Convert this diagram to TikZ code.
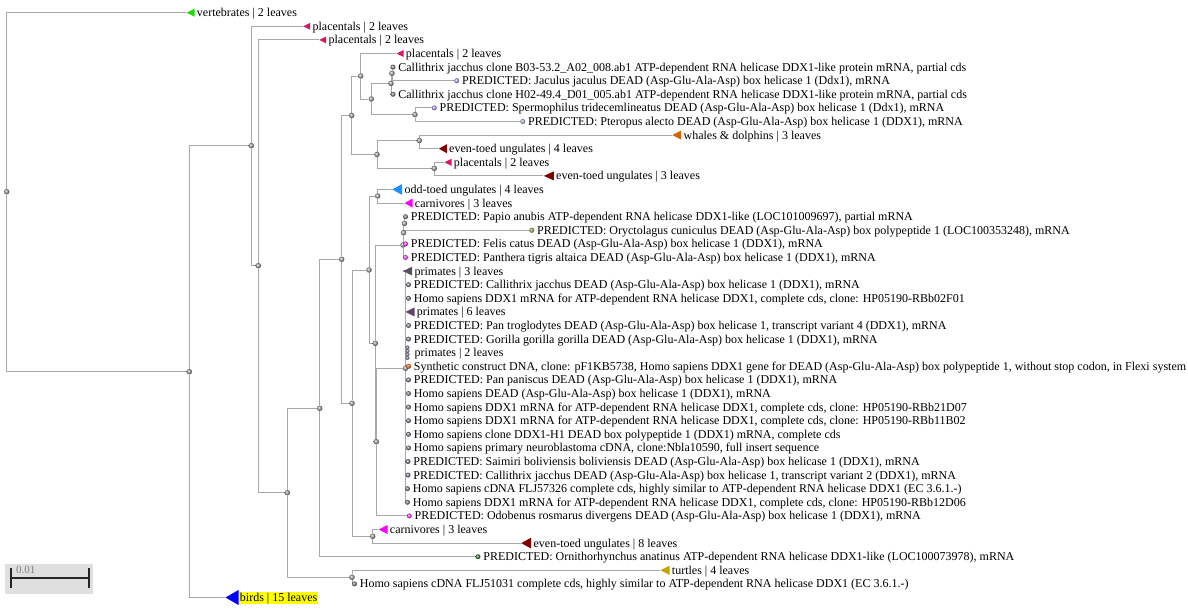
\documentclass[tikz,border=0pt]{standalone}
\usepackage{fontspec}
\setmainfont{Liberation Serif}
\usetikzlibrary{positioning,shapes.geometric,backgrounds}

% Colours
\definecolor{edgegray}{RGB}{168,168,168}
\definecolor{nodegray}{RGB}{165,165,165}
\definecolor{leafgray}{RGB}{140,128,150}
\definecolor{lavender}{RGB}{190,160,255}
\definecolor{bluegray}{RGB}{175,190,215}
\definecolor{oryctcol}{RGB}{170,170,90}
\definecolor{pinkleaf}{RGB}{255,70,255}
\definecolor{synthorange}{RGB}{255,100,30}
\definecolor{platygreen}{RGB}{60,130,60}
\definecolor{vertgreen}{RGB}{30,220,10}
\definecolor{placpink}{RGB}{220,20,100}
\definecolor{whaleorange}{RGB}{210,100,0}
\definecolor{eventoed}{RGB}{128,0,0}
\definecolor{oddblue}{RGB}{30,144,255}
\definecolor{carnmagenta}{RGB}{255,0,255}
\definecolor{primgray}{RGB}{90,75,95}
\definecolor{turtlegold}{RGB}{200,160,0}
\definecolor{birdblue}{RGB}{0,0,255}
\definecolor{birdyellow}{RGB}{255,255,0}

\begin{document}
\begin{tikzpicture}[
            x=1pt, y=-1pt,
            edgeline/.style={
                draw=edgegray,
                line width=0.9pt
            },
            innode/.style={
                circle,
                inner sep=0pt,
                minimum size=5.5pt,
                ball color=nodegray
            },
            leafnode/.style={
                circle,
                inner sep=0pt,
                minimum size=5pt
            },
            clade/.style={
                isosceles triangle,
                shape border rotate=180,
                isosceles triangle stretches,
                inner sep=0pt,
                anchor=apex
            },
            lbl/.style={
                inner sep=0pt,
                text height=10pt,
                text depth=2pt,
                font=\fontsize{12}{14}\selectfont
            }
        ]

            % Layout parameters
            \def\rowtop{12.7}
            \def\rowstep{13.6}

            \useasboundingbox (0,0) rectangle (1188,609);

            % --- Internal nodes ---
            \foreach \nm/\x/\y in {root/6.7/191.7, n1/189.3/371.7, n2/251.3/145.7,
                n3/258.3/265.7, n4/287.3/492.7, n5/319.7/408.3, n6/352/577.3,
                n7/341.7/259.3, n8/351.7/115.5, n9/352/403.3, n10/360.7/76,
                n11/377/154.5, n12/371.3/99, n13/391/83.5, n14/415/114.6,
                n15/392/73.3, n16/419.3/140.5, n17/434.3/168.3, n18/369/270,
                n19/372.7/536.3, n20/377.7/196, n21/375.3/343.3, n22/403/245,
                n23/376.3/441.7, n24/405.5/368.3, ca/403.5/232.7, cb/404.5/223.3} {
                \node[innode] (\nm) at (\x,\y) {};
            }

            % --- Collapsed clades (triangles) ---
            \foreach \nm/\x/\r/\len/\wid/\col/\txt in {
                vert/186/1/8pt/8pt/vertgreen/{vertebrates | 2 leaves},
                plac1/302.7/2/7pt/7pt/placpink/{placentals | 2 leaves},
                plac2/318.7/3/7pt/7pt/placpink/{placentals | 2 leaves},
                plac3/396/4/7pt/7pt/placpink/{placentals | 2 leaves},
                whales/671.7/10/9pt/9pt/whaleorange/{whales \& dolphins | 3 leaves},
                even4/438.3/11/8pt/9pt/eventoed/{even-toed ungulates | 4 leaves},
                plac4/444/12/7pt/7pt/placpink/{placentals | 2 leaves},
                even3/543.3/13/10pt/9pt/eventoed/{even-toed ungulates | 3 leaves},
                oddtoed/391.7/14/10pt/11pt/oddblue/{odd-toed ungulates | 4 leaves},
                carn1/404/15/8pt/9pt/carnmagenta/{carnivores | 3 leaves},
                prim3/402.7/20/9pt/9pt/primgray/{primates | 3 leaves},
                prim6/405/23/9pt/9pt/primgray/{primates | 6 leaves},
                carn2/378/39/9pt/9pt/carnmagenta/{carnivores | 3 leaves},
                even8/520.7/40/10pt/11pt/eventoed/{even-toed ungulates | 8 leaves},
                turtles/660/42/9pt/9pt/turtlegold/{turtles | 4 leaves}} {
                \node[clade, fill=\col, minimum height=\len, minimum width=\wid] (\nm) at (\x, {\rowtop+(\r-1)*\rowstep}) {};
                \node[lbl, right=2pt of \nm] {\txt};
            }

            % birds, highlighted
            \node[clade, fill=birdblue, minimum height=13pt, minimum width=15pt] (birds) at (225, {\rowtop+43*\rowstep}) {};
            \node[lbl, fill=birdyellow, inner xsep=0.5pt, right=0.5pt of birds] (birdslbl) {birds | 15 leaves};

            % --- Leaves ---
            \foreach \nm/\x/\r/\col/\txt in {
                b03/393/5/leafgray/{Callithrix jacchus clone B03-53.2\_A02\_008.ab1 ATP-dependent RNA helicase DDX1-like protein mRNA, partial cds},
                jaculus/456.7/6/lavender/{PREDICTED: Jaculus jaculus DEAD (Asp-Glu-Ala-Asp) box helicase 1 (Ddx1), mRNA},
                h02/393/7/leafgray/{Callithrix jacchus clone H02-49.4\_D01\_005.ab1 ATP-dependent RNA helicase DDX1-like protein mRNA, partial cds},
                sperm/434.3/8/lavender/{PREDICTED: Spermophilus tridecemlineatus DEAD (Asp-Glu-Ala-Asp) box helicase 1 (Ddx1), mRNA},
                pteropus/522.7/9/bluegray/{PREDICTED: Pteropus alecto DEAD (Asp-Glu-Ala-Asp) box helicase 1 (DDX1), mRNA},
                papio/405.5/16/leafgray/{PREDICTED: Papio anubis ATP-dependent RNA helicase DDX1-like (LOC101009697), partial mRNA},
                oryct/531.7/17/oryctcol/{PREDICTED: Oryctolagus cuniculus DEAD (Asp-Glu-Ala-Asp) box polypeptide 1 (LOC100353248), mRNA},
                felis/405.5/18/pinkleaf/{PREDICTED: Felis catus DEAD (Asp-Glu-Ala-Asp) box helicase 1 (DDX1), mRNA},
                panthera/405.5/19/pinkleaf/{PREDICTED: Panthera tigris altaica DEAD (Asp-Glu-Ala-Asp) box helicase 1 (DDX1), mRNA},
                calli/408.5/21/leafgray/{PREDICTED: Callithrix jacchus DEAD (Asp-Glu-Ala-Asp) box helicase 1 (DDX1), mRNA},
                rbb02/408.5/22/leafgray/{Homo sapiens DDX1 mRNA for ATP-dependent RNA helicase DDX1, complete cds, clone: HP05190-RBb02F01},
                pantro/408.5/24/leafgray/{PREDICTED: Pan troglodytes DEAD (Asp-Glu-Ala-Asp) box helicase 1, transcript variant 4 (DDX1), mRNA},
                gorilla/408.5/25/leafgray/{PREDICTED: Gorilla gorilla gorilla DEAD (Asp-Glu-Ala-Asp) box helicase 1 (DDX1), mRNA},
                synth/408.5/27/synthorange/{Synthetic construct DNA, clone: pF1KB5738, Homo sapiens DDX1 gene for DEAD (Asp-Glu-Ala-Asp) box polypeptide 1, without stop codon, in Flexi system},
                panpan/408.5/28/leafgray/{PREDICTED: Pan paniscus DEAD (Asp-Glu-Ala-Asp) box helicase 1 (DDX1), mRNA},
                hsdead/408.5/29/leafgray/{Homo sapiens DEAD (Asp-Glu-Ala-Asp) box helicase 1 (DDX1), mRNA},
                rbb21/408.5/30/leafgray/{Homo sapiens DDX1 mRNA for ATP-dependent RNA helicase DDX1, complete cds, clone: HP05190-RBb21D07},
                rbb11/408.5/31/leafgray/{Homo sapiens DDX1 mRNA for ATP-dependent RNA helicase DDX1, complete cds, clone: HP05190-RBb11B02},
                ddxh1/408.5/32/leafgray/{Homo sapiens clone DDX1-H1 DEAD box polypeptide 1 (DDX1) mRNA, complete cds},
                nbla/408.5/33/leafgray/{Homo sapiens primary neuroblastoma cDNA, clone:Nbla10590, full insert sequence},
                saimiri/408/34/leafgray/{PREDICTED: Saimiri boliviensis boliviensis DEAD (Asp-Glu-Ala-Asp) box helicase 1 (DDX1), mRNA},
                calli2/408/35/leafgray/{PREDICTED: Callithrix jacchus DEAD (Asp-Glu-Ala-Asp) box helicase 1, transcript variant 2 (DDX1), mRNA},
                flj57/407.5/36/leafgray/{Homo sapiens cDNA FLJ57326 complete cds, highly similar to ATP-dependent RNA helicase DDX1 (EC 3.6.1.-)},
                rbb12/407.5/37/leafgray/{Homo sapiens DDX1 mRNA for ATP-dependent RNA helicase DDX1, complete cds, clone: HP05190-RBb12D06},
                odobenus/409.3/38/pinkleaf/{PREDICTED: Odobenus rosmarus divergens DEAD (Asp-Glu-Ala-Asp) box helicase 1 (DDX1), mRNA},
                ornith/478/41/platygreen/{PREDICTED: Ornithorhynchus anatinus ATP-dependent RNA helicase DDX1-like (LOC100073978), mRNA},
                flj51/354.5/43/leafgray/{Homo sapiens cDNA FLJ51031 complete cds, highly similar to ATP-dependent RNA helicase DDX1 (EC 3.6.1.-)}} {
                \node[leafnode, ball color=\col] (\nm) at (\x, {\rowtop+(\r-1)*\rowstep}) {};
                \node[lbl, right=2.5pt of \nm] {\txt};
            }

            % primates | 2 leaves: stacked tips
            \foreach \k in {0,...,3} {
                \node[leafnode, ball color=leafgray, minimum size=4pt] (ptwo\k) at (407.5, {347.5+\k*3.5}) {};
            }
            \node[lbl, anchor=west] (ptwolbl) at (414.5, {\rowtop+25*\rowstep}) {primates | 2 leaves};

            % --- Branches ---
            \begin{scope}[on background layer]
                \foreach \p/\c in {root/vert.apex, root/n1, n1/n2, n1/birds.apex,
                    n2/plac1.apex, n2/n3, n3/plac2.apex, n3/n4, n4/n5, n4/n6,
                    n6/turtles.apex, n6/flj51, n5/n7, n5/ornith, n7/n8, n7/n9,
                    n8/n10, n8/n11, n10/plac3.apex, n10/n12, n12/n13, n12/n14,
                    n13/n15, n13/h02, n15/b03, n15/jaculus, n14/sperm, n14/pteropus,
                    n11/n16, n11/n17, n16/whales.apex, n16/even4.apex,
                    n17/plac4.apex, n17/even3.apex, n9/n18, n9/n19, n18/n20, n18/n21,
                    n20/oddtoed.apex, n20/carn1.apex, n21/n22, n21/n23,
                    n22/ca, n22/felis, n22/panthera, ca/cb, ca/oryct, cb/papio,
                    n23/n24, n23/odobenus, n19/carn2.apex, n19/even8.apex} {
                    \draw[edgeline] (\p) |- (\c);
                }
                % primate cluster, near zero lengths
                \foreach \c in {prim3.apex, calli, rbb02, prim6.apex, pantro, gorilla,
                    ptwo0, ptwo1, ptwo2, ptwo3, synth, panpan, hsdead, rbb21, rbb11,
                    ddxh1, nbla, saimiri, calli2, flj57, rbb12} {
                    \draw[edgeline, line width=1.4pt] (n24) |- (\c);
                }
            \end{scope}

            % Scale bar
            \fill[gray!25] (5,564) rectangle (92.7,594);
            \draw[line width=2pt, gray!30!black] (11,578.3) -- (89,578.3);
            \draw[line width=2pt, gray!30!black] (11,568) -- (11,588) (89,568) -- (89,588);
            \node[anchor=base west, inner sep=0pt, text=gray, font=\fontsize{11}{12}\selectfont] (scalelbl) at (16,573) {0.01};

        \end{tikzpicture}
\end{document}
